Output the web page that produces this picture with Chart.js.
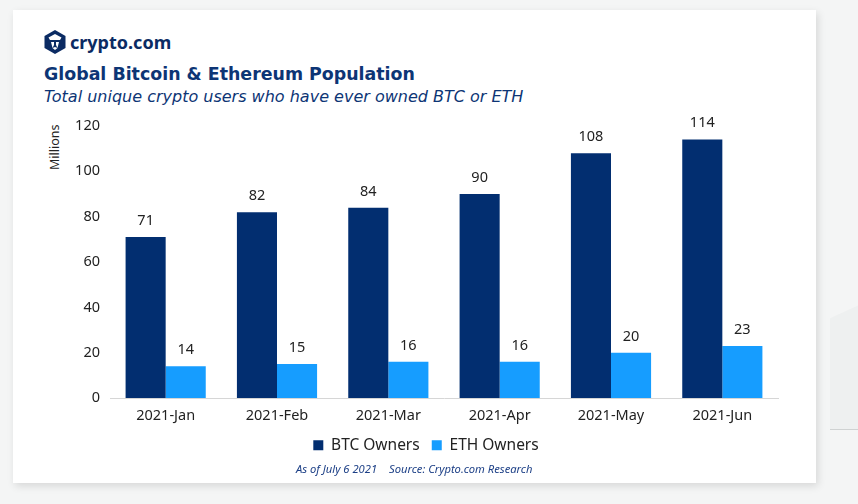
<!DOCTYPE html>
<html>
<head>
<meta charset="utf-8">
<script src="https://cdn.jsdelivr.net/npm/chart.js@4"></script>
<style>
  body { margin: 0; width: 858px; height: 504px; background: #f4f5f5; position: relative; overflow: hidden; font-family: "Noto Sans", sans-serif; }
  #deco { position: absolute; left: 830px; top: 300px; width: 40px; height: 129px; background: #eef0f0; border-bottom: 1px solid #cfd2d2; clip-path: polygon(0 14%, 100% 0, 100% 100%, 0 100%); }
  #card { position: absolute; left: 13px; top: 10px; width: 803px; height: 473px; background: #fff; box-shadow: 2px 3px 8px rgba(0,0,0,0.12); }
  #logo { position: absolute; left: 31px; top: 20px; }
  #brand { position: absolute; left: 57px; top: 20px; font-size: 18px; font-weight: bold; color: #0b2b63; }
  #title { position: absolute; left: 31px; top: 54px; font-family: "DejaVu Sans", sans-serif; font-size: 17.4px; font-weight: bold; color: #0d3575; }
  #subtitle { position: absolute; left: 31px; top: 77px; font-family: "DejaVu Sans", sans-serif; font-size: 16px; font-style: italic; color: #0d3575; }
  #ylab { position: absolute; left: 33px; top: 160px; font-size: 12.5px; line-height: 17px; color: #222; transform: rotate(-90deg); transform-origin: left top; }
  #foot { position: absolute; left: 283px; top: 451px; font-size: 11.2px; font-style: italic; color: #1c3f86; }
  #foot span + span { margin-left: 12px; }
  #wrap { position: absolute; left: 17px; top: 90px; width: 770px; height: 363px; }
</style>
</head>
<body>
<div id="deco"></div>
<div id="card">
  <svg id="logo" width="22" height="24" viewBox="0 0 22 24">
    <polygon points="11,0 21.5,6 21.5,18 11,24 0.5,18 0.5,6" fill="#0b2b63"/>
    <polygon points="11,4 17.5,7.5 16,10 6,10 4.5,7.5" fill="#fff"/>
    <polygon points="7,12 10,12 10,15 8.5,18" fill="#fff"/>
    <polygon points="12,12 15,12 13.5,18 12,15" fill="#fff"/>
    <polygon points="8.5,18 11,17 13.5,18 11,20" fill="#fff"/>
  </svg>
  <div id="brand">crypto.com</div>
  <div id="title">Global Bitcoin &amp; Ethereum Population</div>
  <div id="subtitle">Total unique crypto users who have ever owned BTC or ETH</div>
  <div id="ylab">Millions</div>
  <div id="wrap"><canvas id="chart"></canvas></div>
  <div id="foot"><span>As of July 6 2021</span><span>Source: Crypto.com Research</span></div>
</div>
<script>
var months = ['2021-Jan', '2021-Feb', '2021-Mar', '2021-Apr', '2021-May', '2021-Jun'];
var btcOwners = [71, 82, 84, 90, 108, 114];
var ethOwners = [14, 15, 16, 16, 20, 23];
var yTicks = [0, 20, 40, 60, 80, 100, 120];

var valueLabels = {
  id: 'valueLabels',
  afterDatasetsDraw: function(chart) {
    var ctx = chart.ctx;
    ctx.save();
    ctx.font = '14.5px "Noto Sans"';
    ctx.fillStyle = '#222';
    ctx.textAlign = 'center';
    ctx.textBaseline = 'bottom';
    chart.data.datasets.forEach(function(ds, i) {
      chart.getDatasetMeta(i).data.forEach(function(bar, j) {
        ctx.fillText(ds.data[j], bar.x, bar.y - 9);
      });
    });
    ctx.restore();
  }
};

window.onload = function() {
  var ctx = document.getElementById('chart').getContext('2d');
  window.myBar = new Chart(ctx, {
    type: 'bar',
    data: {
      labels: months,
      datasets: [
        { label: 'BTC Owners', data: btcOwners, backgroundColor: '#022e70' },
        { label: 'ETH Owners', data: ethOwners, backgroundColor: '#169dff' }
      ]
    },
    options: {
      responsive: true,
      maintainAspectRatio: false,
      animation: false,
      layout: { padding: { top: 26, right: 22, left: 44, bottom: 0 } },
      datasets: { bar: { categoryPercentage: 0.72, barPercentage: 1 } },
      plugins: {
        tooltip: { enabled: false },
        legend: {
          position: 'bottom',
          labels: {
            boxWidth: 10, boxHeight: 10, padding: 4, color: '#222',
            font: { size: 15.5, family: '"Noto Sans"' },
            // pad the first entry so the gap between the two items matches
            generateLabels: function(chart) {
              var items = Chart.defaults.plugins.legend.labels.generateLabels(chart);
              items[0].text += '  ';
              return items;
            }
          }
        }
      },
      scales: {
        x: {
          grid: { display: false, drawTicks: false },
          border: { color: '#d6d6d6' },
          ticks: { color: '#222', padding: 9, font: { size: 14.5, family: '"Noto Sans"' } }
        },
        y: {
          min: 0, max: 120,
          afterFit: function(scale) { scale.width = 36; },
          afterBuildTicks: function(scale) { scale.ticks = yTicks.map(function(v) { return { value: v }; }); },
          grid: { display: false, drawTicks: false },
          border: { display: false },
          ticks: { color: '#222', padding: 10, font: { size: 14.5, family: '"Noto Sans"' } }
        }
      }
    },
    plugins: [valueLabels]
  });
};
</script>
</body>
</html>
